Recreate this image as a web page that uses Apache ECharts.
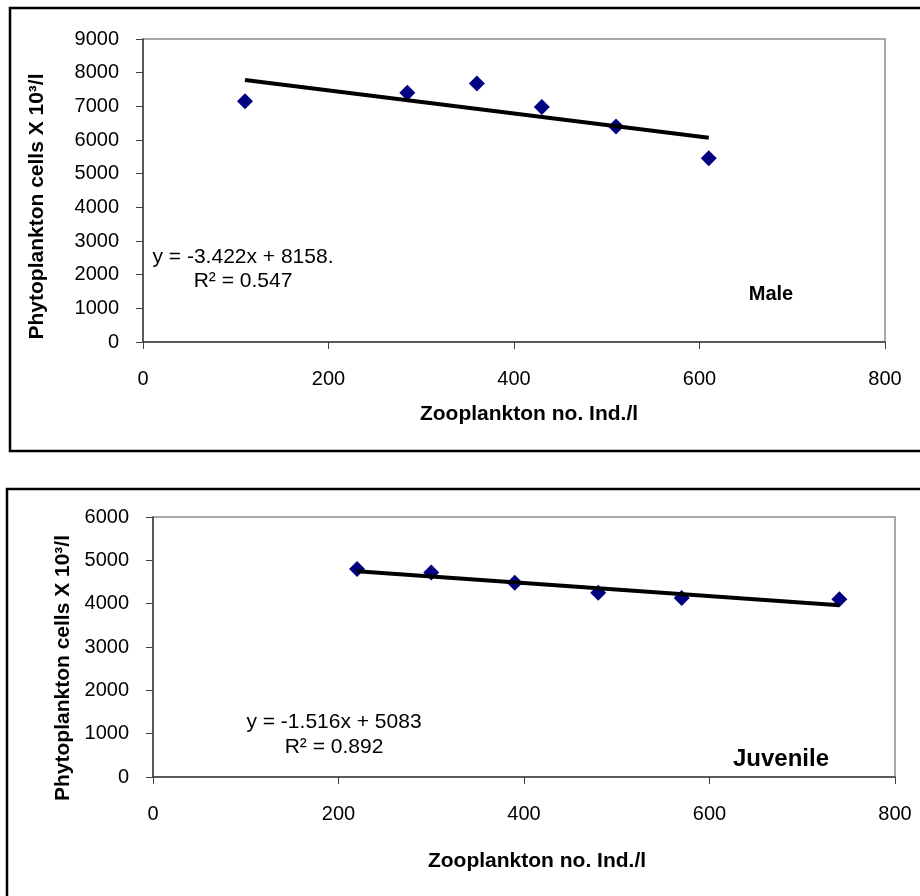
<!DOCTYPE html>
<html>
<head>
<meta charset="utf-8">
<script src="https://cdn.jsdelivr.net/npm/echarts@6/dist/echarts.min.js"></script>
<style>
html,body{margin:0;padding:0;background:#fff;}
#c{width:920px;height:896px;}
</style>
</head>
<body>
<div id="c"></div>
<script>
// ---- Data ----
var maleX = [110, 285, 360, 430, 510, 610];
var maleY = [7150, 7400, 7680, 6980, 6400, 5460];
var maleTrendX = [110, 610];
var maleTrendY = [7781, 6070];
var maleEquation = 'y = -3.422x + 8158.';
var maleR2 = 'R² = 0.547';

var juvX = [220, 300, 390, 480, 570, 740];
var juvY = [4800, 4720, 4480, 4250, 4130, 4100];
var juvTrendX = [220, 740];
var juvTrendY = [4750, 3961];
var juvEquation = 'y = -1.516x + 5083';
var juvR2 = 'R² = 0.892';

var xTitle = 'Zooplankton no. Ind./l';
var yTitle = 'Phytoplankton cells X 10³/l';
var maleLabel = 'Male';
var juvLabel = 'Juvenile';

function pairs(xs, ys){ return xs.map(function(x,i){ return [x, ys[i]]; }); }
function plain(v){ return String(v); }

var FONT = '"Liberation Sans", Arial, sans-serif';

function xAxisCfg(gi, gap, padL){
  return {
    type:'value', gridIndex:gi, min:0, max:800, interval:200,
    name:xTitle, nameLocation:'middle', nameGap:gap,
    nameTextStyle:{fontFamily:FONT, fontSize:21, fontWeight:'bold', color:'#000', padding:[0,0,0,padL]},
    axisLine:{show:true, onZero:false, lineStyle:{color:'#404040', width:1.5}},
    axisTick:{show:true, length:7, lineStyle:{color:'#404040'}},
    axisLabel:{fontFamily:FONT, fontSize:20, color:'#000', margin:27, formatter:plain},
    splitLine:{show:false}
  };
}
function yAxisCfg(gi, max, gap, padR){
  return {
    type:'value', gridIndex:gi, min:0, max:max, interval:1000,
    name:yTitle, nameLocation:'middle', nameGap:gap,
    nameTextStyle:{fontFamily:FONT, fontSize:21, fontWeight:'bold', color:'#000', padding:[0,padR,0,0]},
    axisLine:{show:true, onZero:false, lineStyle:{color:'#404040', width:1.5}},
    axisTick:{show:true, length:7, lineStyle:{color:'#404040'}},
    axisLabel:{fontFamily:FONT, fontSize:20, color:'#000', margin:24, formatter:plain},
    splitLine:{show:false}
  };
}

var chart = echarts.init(document.getElementById('c'), null, {renderer:'canvas'});
chart.setOption({
  animation:false,
  backgroundColor:'#fff',
  grid:[
    {left:143, top:39, right:35, bottom:554, show:true, borderColor:'#8c8c8c', borderWidth:1.5, backgroundColor:'transparent'},
    {left:153, top:517, right:25, bottom:119, show:true, borderColor:'#8c8c8c', borderWidth:1.5, backgroundColor:'transparent'}
  ],
  xAxis:[ xAxisCfg(0, 62, 30), xAxisCfg(1, 74, 26) ],
  yAxis:[ yAxisCfg(0, 9000, 95, 32), yAxisCfg(1, 6000, 75, 42) ],
  series:[
    {type:'scatter', xAxisIndex:0, yAxisIndex:0, data:pairs(maleX, maleY),
      symbol:'diamond', symbolSize:16, itemStyle:{color:'#000080', opacity:1}, z:2},
    {type:'line', xAxisIndex:0, yAxisIndex:0, data:pairs(maleTrendX, maleTrendY),
      showSymbol:false, symbol:'none', lineStyle:{color:'#000', width:4}, z:3},
    {type:'scatter', xAxisIndex:1, yAxisIndex:1, data:pairs(juvX, juvY),
      symbol:'diamond', symbolSize:16, itemStyle:{color:'#000080', opacity:1}, z:2},
    {type:'line', xAxisIndex:1, yAxisIndex:1, data:pairs(juvTrendX, juvTrendY),
      showSymbol:false, symbol:'none', lineStyle:{color:'#000', width:4}, z:3}
  ],
  graphic:[
    {type:'rect', shape:{x:10, y:8, width:940, height:443}, style:{fill:null, stroke:'#000', lineWidth:2.5}, silent:true},
    {type:'rect', shape:{x:7, y:489, width:940, height:450}, style:{fill:null, stroke:'#000', lineWidth:2.5}, silent:true},
    {type:'text', x:243, y:269, style:{text:maleEquation + '\n' + maleR2, font:'21px ' + FONT, fill:'#000', textAlign:'center', textVerticalAlign:'middle', lineHeight:24}},
    {type:'text', x:771, y:294, style:{text:maleLabel, font:'bold 20px ' + FONT, fill:'#000', textAlign:'center', textVerticalAlign:'middle'}},
    {type:'text', x:334, y:735, style:{text:juvEquation + '\n' + juvR2, font:'21px ' + FONT, fill:'#000', textAlign:'center', textVerticalAlign:'middle', lineHeight:25}},
    {type:'text', x:781, y:759, style:{text:juvLabel, font:'bold 24px ' + FONT, fill:'#000', textAlign:'center', textVerticalAlign:'middle'}}
  ]
});
</script>
</body>
</html>
